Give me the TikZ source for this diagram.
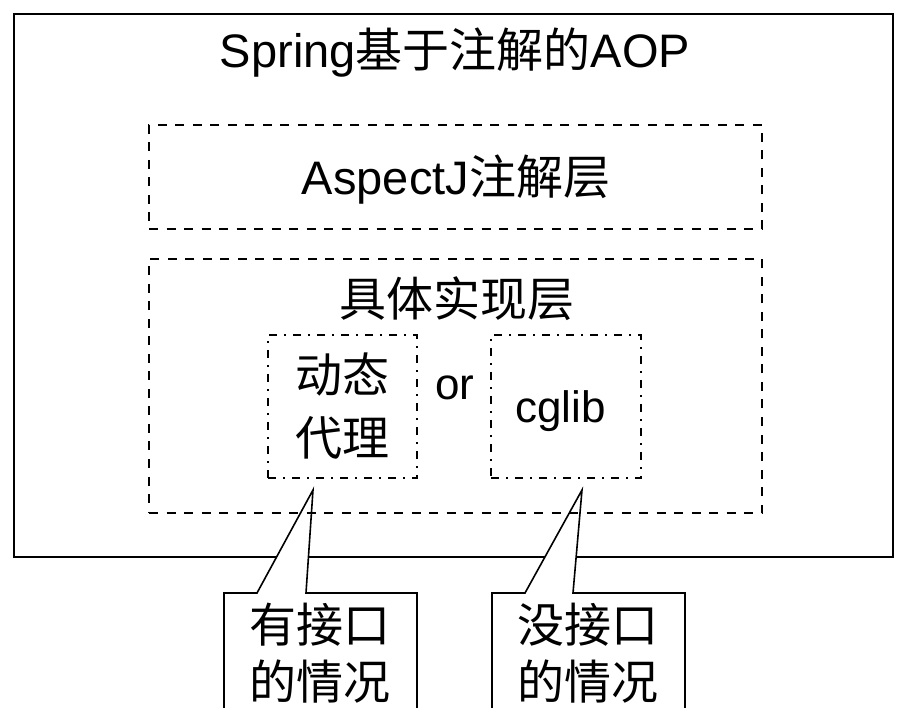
\documentclass[tikz,border=0pt]{standalone}
\usepackage{fontspec}
\setmainfont{Liberation Sans}
\newfontfamily\cjk{Noto Sans CJK SC}
\newcommand{\zh}[1]{{\cjk #1}}
\begin{document}
\begin{tikzpicture}[x=1pt,y=-1pt,
  outerbox/.style={draw=black, line width=2pt},
  dashbox/.style={draw=black, line width=2pt, dash pattern=on 9pt off 8.5pt, inner sep=0pt, outer sep=0pt},
  dotbox/.style={draw=black, line width=1.8pt, dash pattern=on 8pt off 7pt on 2pt off 7pt, inner sep=0pt, outer sep=0pt},
  callout/.style={draw=black, line width=1.6pt, fill=white, line join=miter},
  bigtext/.style={font=\fontsize{47}{58}\selectfont, inner sep=0pt, anchor=base},
  midtext/.style={font=\fontsize{44}{52}\selectfont, inner sep=0pt, anchor=base}]
\useasboundingbox (0,0) rectangle (905,708);
\begin{scope}
\clip (0,0) rectangle (905,708);
\fill[white] (0,0) rectangle (905,708);
\draw[outerbox] (14,14) rectangle (893,557);
% callouts
\draw[callout] (224,720) -- (224,593) -- (257,593) -- (313,490) -- (306,593) -- (417,593) -- (417,720);
\draw[callout] (492,720) -- (492,593) -- (525,593) -- (582,490) -- (573,593) -- (685,593) -- (685,720);
% boxes
\node[dashbox, minimum width=613pt, minimum height=104pt] (asp) at (455.5,177) {};
\node[dashbox, minimum width=613pt, minimum height=254pt] (impl) at (455.5,386) {};
\node[dotbox, minimum width=149pt, minimum height=143pt] (dyn) at (342.5,406.5) {};
\node[dotbox, minimum width=150pt, minimum height=143pt] (cg) at (566,406.5) {};
% texts
\node[bigtext] (title) at (455,68) {Spring\zh{基于注解的}AOP};
\node[bigtext] (asptext) at (456,195) {AspectJ\zh{注解层}};
\node[bigtext] (impltext) at (457,317) {\zh{具体实现层}};
\node[bigtext] (dyn1) at (342.5,392) {\zh{动态}};
\node[bigtext] (dyn2) at (342.5,455) {\zh{代理}};
\node[midtext] (ortext) at (455,400) {or};
\node[midtext] (cgtext) at (560.5,423) {cglib};
\node[bigtext] (c1a) at (320,642) {\zh{有接口}};
\node[bigtext] (c1b) at (320,699) {\zh{的情况}};
\node[bigtext] (c2a) at (588,642) {\zh{没接口}};
\node[bigtext] (c2b) at (588,699) {\zh{的情况}};
\end{scope}
\end{tikzpicture}
\end{document}
